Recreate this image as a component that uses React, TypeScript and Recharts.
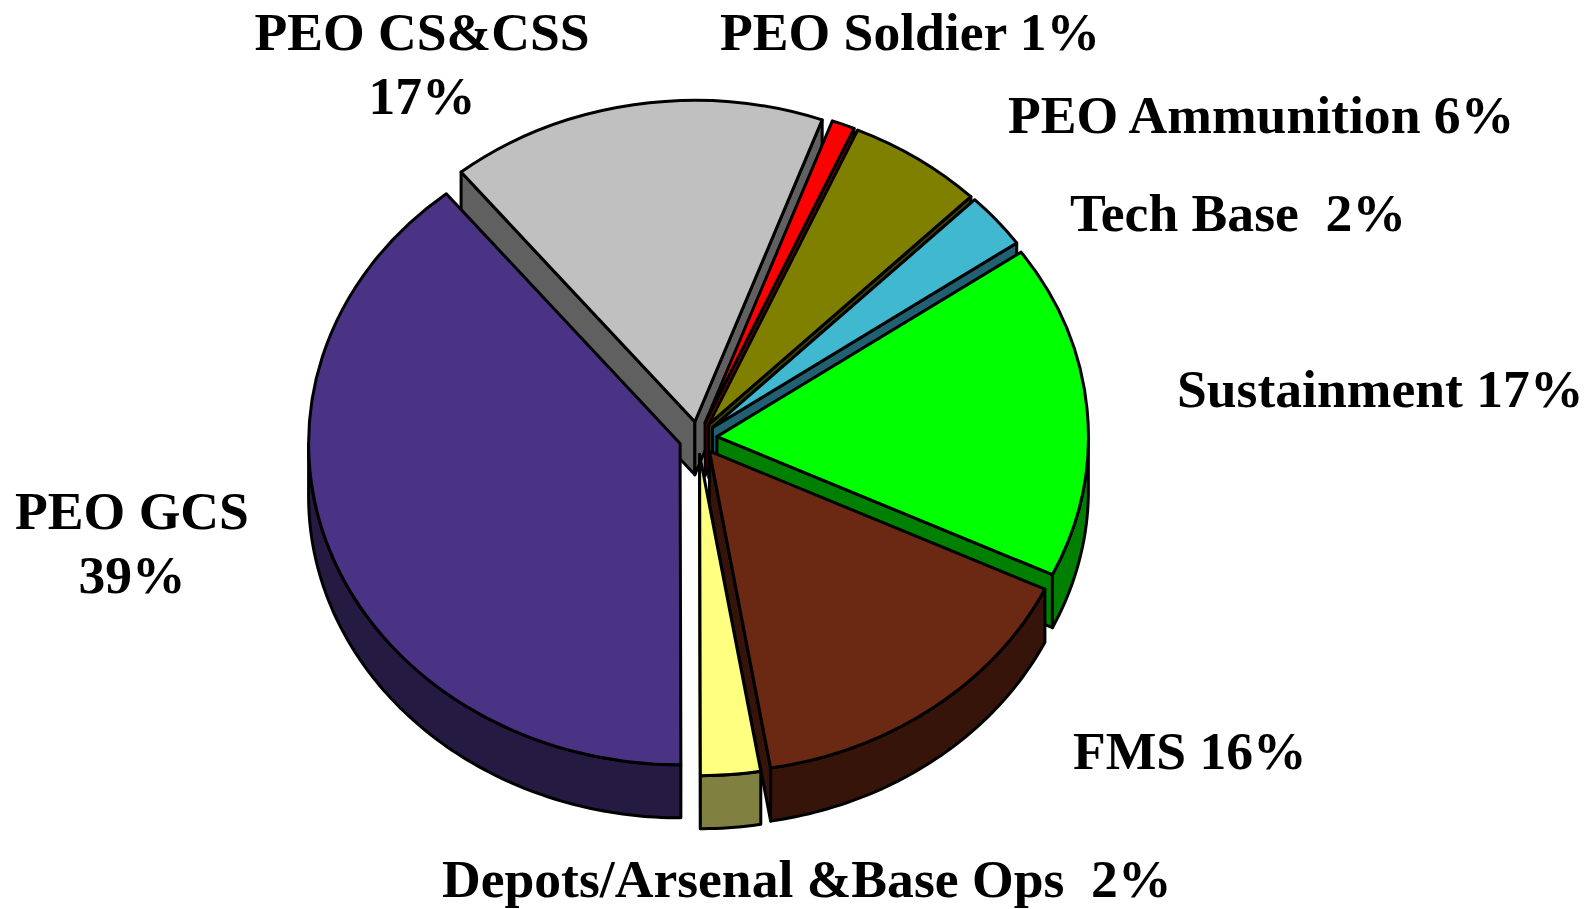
import React from 'react';
import { PieChart, Pie } from 'recharts';

// In drawing order (back slices first)
const categories = ['PEO CS&CSS', 'PEO Soldier', 'PEO Ammunition', 'Tech Base', 'Sustainment', 'FMS', 'Depots/Arsenal &Base Ops', 'PEO GCS'];
const shares = [16.4, 1.0, 5.9, 2.8, 16.8, 15.3, 2.6, 39.2];
const printedPercent = ['17%', '1%', '6%', '2%', '17%', '16%', '2%', '39%'];
const topColors = ['#C0C0C0', '#FF0000', '#808000', '#40B8D0', '#00FF00', '#6B2813', '#FFFF80', '#4A3384'];
const wallColors = ['#606060', '#800000', '#404000', '#206070', '#008000', '#36140A', '#808040', '#251A42'];

// label layout: x, first baseline, anchor, gap before percent ('\n' = own line)
const labelSpots: [number, number, 'start' | 'middle', string][] = [
  [422, 50, 'middle', '\n'],
  [720, 50, 'start', ' '],
  [1008, 133, 'start', ' '],
  [1070, 231, 'start', '\u00A0 '],
  [1177, 407, 'start', ' '],
  [1073, 769, 'start', ' '],
  [442, 897, 'start', '\u00A0 '],
  [132, 529, 'middle', '\n'],
];

const rows = categories.map((name, i) => ({ name, value: shares[i], top: topColors[i], wall: wallColors[i] }));

const TILT = 0.865;
const DEPTH = 53;
const EXPLODE = 19;
const RAD = Math.PI / 180;

const TiltedSlice = (props: any) => {
  const { cx, cy, outerRadius: r, startAngle, endAngle, midAngle, payload } = props;
  const ax = cx + EXPLODE * Math.cos(midAngle * RAD);
  const ay = cy - EXPLODE * TILT * Math.sin(midAngle * RAD);
  const at = (a: number): [number, number] => [ax + r * Math.cos(a * RAD), ay - r * TILT * Math.sin(a * RAD)];
  const [sx, sy] = at(startAngle);
  const [ex, ey] = at(endAngle);
  const large = Math.abs(startAngle - endAngle) > 180 ? 1 : 0;

  // outer wall only where the rim faces the viewer
  const rim: [number, number][] = [];
  const lo = Math.min(startAngle, endAngle);
  const hi = Math.max(startAngle, endAngle);
  for (let a = hi; a >= lo; a -= 1) {
    if (Math.sin(a * RAD) <= 0) rim.push(at(a));
  }
  if (Math.sin(lo * RAD) <= 0) rim.push(at(lo));
  const rimPath = rim.length > 1
    ? 'M' + rim.map(p => `${p[0]},${p[1]}`).join('L') + 'L' + [...rim].reverse().map(p => `${p[0]},${p[1] + DEPTH}`).join('L') + 'Z'
    : null;

  const edgeQuad = (x: number, y: number) => `M${ax},${ay}L${x},${y}L${x},${y + DEPTH}L${ax},${ay + DEPTH}Z`;
  const line = { stroke: '#000', strokeWidth: 3, strokeLinejoin: 'round' as const };

  return (
    <g>
      {sx < ax && <path d={edgeQuad(sx, sy)} fill={payload.wall} {...line} />}
      {ex > ax && <path d={edgeQuad(ex, ey)} fill={payload.wall} {...line} />}
      {rimPath && <path d={rimPath} fill={payload.wall} {...line} />}
      <path
        d={`M${ax},${ay}L${sx},${sy}A${r},${r * TILT} 0 ${large} 1 ${ex},${ey}Z`}
        fill={payload.top}
        {...line}
      />
    </g>
  );
};

const SliceLabel = ({ index }: any) => {
  const [x, y, anchor, gap] = labelSpots[index];
  const textStyle = { fontFamily: '"Liberation Serif", serif', fontWeight: 700, fontSize: 53.6, fill: '#000' };
  if (gap === '\n') {
    return (
      <text x={x} y={y} textAnchor={anchor} style={textStyle}>
        <tspan x={x}>{categories[index]}</tspan>
        <tspan x={x} dy={64}>{printedPercent[index]}</tspan>
      </text>
    );
  }
  return (
    <text x={x} y={y} textAnchor={anchor} style={textStyle}>
      {categories[index] + gap + printedPercent[index]}
    </text>
  );
};

export default function App() {
  return (
    <div style={{ position: 'absolute', left: 0, top: 0, width: 1595, height: 909, background: '#fff' }}>
      <PieChart width={1595} height={909} margin={{ top: 0, right: 0, bottom: 0, left: 0 }}>
        <Pie
          data={rows}
          dataKey="value"
          nameKey="name"
          cx={698}
          cy={438}
          outerRadius={371.5}
          startAngle={129}
          endAngle={-231}
          paddingAngle={0}
          shape={TiltedSlice}
          label={SliceLabel}
          labelLine={false}
          isAnimationActive={false}
        />
      </PieChart>
    </div>
  );
}
